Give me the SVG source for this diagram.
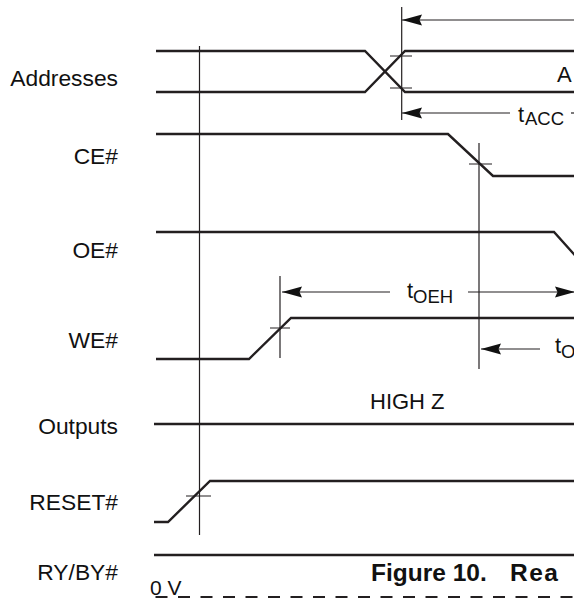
<svg xmlns="http://www.w3.org/2000/svg" width="574" height="600" viewBox="0 0 574 600">
<style>
.sig{fill:none;stroke:#231f20;stroke-width:2.4;stroke-linejoin:miter}
.thin{fill:none;stroke:#231f20;stroke-width:1.2}
.lbl{font-family:"Liberation Sans",Arial,sans-serif;font-size:22.8px;fill:#111;text-anchor:end}
.t{font-family:"Liberation Sans",Arial,sans-serif;font-size:22px;fill:#111}
.sub{font-size:18.5px}
.fig{font-family:"Liberation Sans",Arial,sans-serif;font-size:24.5px;font-weight:bold;fill:#111}
</style>
<defs>
<marker id="ah" viewBox="-21 -7 22 14" refX="0" refY="0" markerWidth="22" markerHeight="14" markerUnits="userSpaceOnUse" orient="auto-start-reverse">
<path d="M0,0 L-20,-5.5 L-17.5,0 L-20,5.5 Z" fill="#111"/>
</marker>
</defs>
<rect width="574" height="600" fill="#fff"/>

<g id="addresses">
<text class="lbl" x="118" y="86">Addresses</text>
<path class="sig" d="M156,51 H365 L405,92 H574"/>
<path class="sig" d="M156,92 H365 L405,51 H574"/>
<text class="t" x="557" y="82">A</text>
</g>
<g id="ce">
<text class="lbl" x="118" y="164">CE#</text>
<path class="sig" d="M156,134 H448 L493,176 H574"/>
</g>
<g id="oe">
<text class="lbl" x="118" y="258">OE#</text>
<path class="sig" d="M156,232 H554 L600,283"/>
</g>
<g id="we">
<text class="lbl" x="118" y="348">WE#</text>
<path class="sig" d="M156,359 H249 L291,318 H574"/>
</g>
<g id="outputs">
<text class="lbl" x="118" y="434">Outputs</text>
<path class="sig" d="M154,424 H574"/>
<text class="t" x="370" y="409">HIGH Z</text>
</g>
<g id="reset">
<text class="lbl" x="118" y="510">RESET#</text>
<path class="sig" d="M154,522 H168 L210,481 H574"/>
</g>
<g id="rybi">
<text class="lbl" x="118" y="580">RY/BY#</text>
<path class="sig" d="M154,555 H574"/>
<text class="t" x="150" y="595" style="font-size:21px">0 V</text>
<path d="M155.5,597 H574" fill="none" stroke="#231f20" stroke-width="2" stroke-dasharray="12 10.5"/>
</g>

<g id="connectors">
<path class="thin" d="M199.5,46 V535"/>
<path class="thin" d="M401.7,7 V120"/>
<path class="thin" d="M479,143 V369"/>
<path class="thin" d="M280,276 V358"/>
<path class="thin" d="M390,56 H412 M390,88 H412 M469,164 H492 M270,328 H290 M186,496 H211"/>
<path class="thin" d="M402,20 H574" marker-start="url(#ah)"/>
<path class="thin" d="M402,113 H510" marker-start="url(#ah)"/>
<path class="thin" d="M571,113 H580"/>
<path class="thin" d="M282,292 H390" marker-start="url(#ah)"/>
<path class="thin" d="M468,292 H575" marker-end="url(#ah)"/>
<path class="thin" d="M481,349 H540" marker-start="url(#ah)"/>
</g>

<g id="timing-labels">
<text class="t" x="518" y="122">t<tspan class="sub" x="525" y="125">ACC</tspan></text>
<text class="t" x="407" y="298">t<tspan class="sub" x="413" y="303">OEH</tspan></text>
<text class="t" x="555" y="353">t<tspan class="sub" x="561" y="358">O</tspan></text>
</g>

<g id="caption">
<text class="fig" x="371" y="581">Figure 10.</text>
<text class="fig" x="510" y="581" letter-spacing="1.5">Rea</text>
</g>
</svg>
